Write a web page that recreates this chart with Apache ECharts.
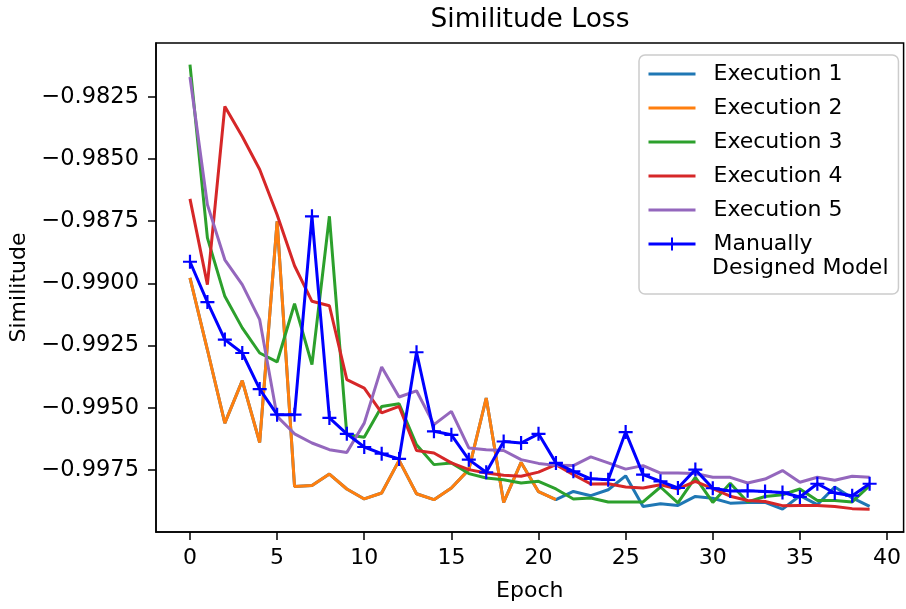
<!DOCTYPE html>
<html>
<head>
<meta charset="utf-8">
<script src="https://cdn.jsdelivr.net/npm/echarts@6/dist/echarts.min.js"></script>
<style>
  html, body { margin: 0; padding: 0; background: #fff; }
  #chart { width: 906px; height: 609px; }
</style>
</head>
<body>
<div id="chart"></div>
<script>
// epochs 0..39
const epochs = [0,1,2,3,4,5,6,7,8,9,10,11,12,13,14,15,16,17,18,19,20,21,22,23,24,25,26,27,28,29,30,31,32,33,34,35,36,37,38,39]

const exec1 = [-0.98978,-0.99267,-0.99562,-0.99391,-0.99640,-0.98750,-0.99817,-0.99813,-0.99767,-0.99827,
  -0.99867,-0.99843,-0.99712,-0.99846,-0.99870,-0.99823,-0.99749,-0.99461,-0.99881,-0.99720,
  -0.99838,-0.99870,-0.99837,-0.99854,-0.99830,-0.99774,-0.99897,-0.99886,-0.99893,-0.99857,
  -0.99864,-0.99884,-0.99881,-0.99881,-0.99908,-0.99854,-0.99890,-0.99819,-0.99863,-0.99897]

// run 2 stops at epoch 21
const exec2 = [-0.98978,-0.99267,-0.99562,-0.99391,-0.99640,-0.98750,-0.99817,-0.99813,-0.99767,-0.99827,
  -0.99867,-0.99843,-0.99712,-0.99846,-0.99870,-0.99823,-0.99749,-0.99461,-0.99881,-0.99720,
  -0.99838,-0.99870]

const exec3 = [-0.98120,-0.98817,-0.99052,-0.99179,-0.99280,-0.99316,-0.99082,-0.99327,-0.98730,-0.99609,
  -0.99619,-0.99495,-0.99484,-0.99649,-0.99729,-0.99722,-0.99765,-0.99783,-0.99790,-0.99803,
  -0.99796,-0.99827,-0.99867,-0.99863,-0.99879,-0.99879,-0.99879,-0.99819,-0.99883,-0.99780,
  -0.99881,-0.99804,-0.99879,-0.99857,-0.99850,-0.99827,-0.99873,-0.99873,-0.99879,-0.99814]

const exec4 = [-0.98660,-0.99005,-0.98288,-0.98409,-0.98542,-0.98724,-0.98929,-0.99072,-0.99090,-0.99387,
  -0.99421,-0.99521,-0.99495,-0.99672,-0.99682,-0.99722,-0.99749,-0.99763,-0.99772,-0.99776,
  -0.99759,-0.99729,-0.99769,-0.99807,-0.99806,-0.99819,-0.99823,-0.99810,-0.99827,-0.99796,
  -0.99826,-0.99856,-0.99873,-0.99877,-0.99894,-0.99893,-0.99893,-0.99897,-0.99906,-0.99908]

const exec5 = [-0.98170,-0.98683,-0.98905,-0.99005,-0.99146,-0.99535,-0.99605,-0.99642,-0.99669,-0.99680,
  -0.99562,-0.99336,-0.99457,-0.99432,-0.99568,-0.99515,-0.99662,-0.99669,-0.99672,-0.99709,
  -0.99724,-0.99732,-0.99733,-0.99698,-0.99722,-0.99747,-0.99733,-0.99763,-0.99763,-0.99765,
  -0.99780,-0.99780,-0.99803,-0.99787,-0.99753,-0.99800,-0.99780,-0.99792,-0.99776,-0.99780]

const manual = [-0.98913,-0.99075,-0.99226,-0.99280,-0.99425,-0.99528,-0.99528,-0.98730,-0.99541,-0.99605,
  -0.99658,-0.99685,-0.99706,-0.99277,-0.99595,-0.99609,-0.99709,-0.99760,-0.99636,-0.99642,
  -0.99605,-0.99722,-0.99756,-0.99786,-0.99790,-0.99598,-0.99769,-0.99796,-0.99823,-0.99749,
  -0.99824,-0.99835,-0.99834,-0.99837,-0.99841,-0.99859,-0.99806,-0.99843,-0.99854,-0.99806]

const xTicks = [0, 5, 10, 15, 20, 25, 30, 35, 40]
const yTicks = [-0.9975, -0.995, -0.9925, -0.99, -0.9875, -0.985, -0.9825]

const FONT = "DejaVu Sans"
const pairs = (vals) => vals.map((v, i) => [epochs[i], v])

const execSeries = (name, vals, color) => ({
  name: name,
  type: "line",
  data: pairs(vals),
  symbol: "none",
  lineStyle: { color: color, width: 3 },
  itemStyle: { color: color },
  animation: false
})

// legend entries for plain lines: hide the marker, keep the line
const lineOnly = (name) => ({ name: name, itemStyle: { opacity: 0 } })

const chart = echarts.init(document.getElementById("chart"))

chart.setOption({
  animation: false,
  textStyle: { fontFamily: FONT },
  title: [
    {
      text: "Similitude Loss",
      left: 530,
      top: 4,
      padding: 0,
      textAlign: "center",
      textStyle: { fontFamily: FONT, fontSize: 26.5, fontWeight: "normal", color: "#000", lineHeight: 32 }
    },
    {
      text: "Designed Model",
      left: 712,
      top: 255,
      padding: 0,
      textStyle: { fontFamily: FONT, fontSize: 22, fontWeight: "normal", color: "#000", lineHeight: 26 }
    }
  ],
  legend: {
    orient: "vertical",
    left: 639,
    top: 55,
    padding: [6, 56, 37, 8],
    itemWidth: 47,
    itemHeight: 16,
    itemGap: 8,
    lineStyle: { width: 3 },
    backgroundColor: "rgba(255,255,255,0.8)",
    borderColor: "#cccccc",
    borderWidth: 1.5,
    borderRadius: 6,
    textStyle: { fontFamily: FONT, fontSize: 22, color: "#000", lineHeight: 26, padding: [0, 0, 0, 13] },
    formatter: (name) => name === "Manually Designed Model" ? "Manually" : name,
    data: [
      lineOnly("Execution 1"),
      lineOnly("Execution 2"),
      lineOnly("Execution 3"),
      lineOnly("Execution 4"),
      lineOnly("Execution 5"),
      "Manually Designed Model"
    ]
  },
  grid: { left: 156, top: 43, right: 2.4, bottom: 77, show: true, borderColor: "#000", borderWidth: 1.5 },
  xAxis: {
    type: "value",
    min: -1.95,
    max: 40.95,
    name: "Epoch",
    nameLocation: "middle",
    nameGap: 48,
    nameTextStyle: { fontFamily: FONT, fontSize: 22, color: "#000" },
    axisLine: { show: true, onZero: false, lineStyle: { color: "#000", width: 1.5 } },
    axisTick: { show: true, length: 8, customValues: xTicks, lineStyle: { color: "#000", width: 1.5 } },
    axisLabel: { customValues: xTicks, margin: 15, fontSize: 22, color: "#000", fontFamily: FONT },
    splitLine: { show: false }
  },
  yAxis: {
    type: "value",
    min: -1.0,
    max: -0.98033,
    name: "Similitude",
    nameLocation: "middle",
    nameGap: 122,
    nameTextStyle: { fontFamily: FONT, fontSize: 22, color: "#000" },
    axisLine: { show: true, onZero: false, lineStyle: { color: "#000", width: 1.5 } },
    axisTick: { show: true, length: 8, customValues: yTicks, lineStyle: { color: "#000", width: 1.5 } },
    axisLabel: {
      customValues: yTicks,
      margin: 17,
      fontSize: 22.5,
      color: "#000",
      fontFamily: FONT,
      formatter: (v) => "\u2212" + Math.abs(v).toFixed(4)
    },
    splitLine: { show: false }
  },
  series: [
    execSeries("Execution 1", exec1, "#1f77b4"),
    execSeries("Execution 2", exec2, "#ff7f0e"),
    execSeries("Execution 3", exec3, "#2ca02c"),
    execSeries("Execution 4", exec4, "#d62728"),
    execSeries("Execution 5", exec5, "#9467bd"),
    {
      name: "Manually Designed Model",
      type: "line",
      data: pairs(manual),
      symbol: "path://M5,0 L5,10 M0,5 L10,5",
      symbolSize: 14,
      showAllSymbol: true,
      lineStyle: { color: "#0000ff", width: 3 },
      itemStyle: { color: "#0000ff", borderColor: "#0000ff", borderWidth: 2.2 },
      animation: false
    }
  ]
})

window.addEventListener("resize", () => {
  chart.resize()
})
</script>
</body>
</html>
